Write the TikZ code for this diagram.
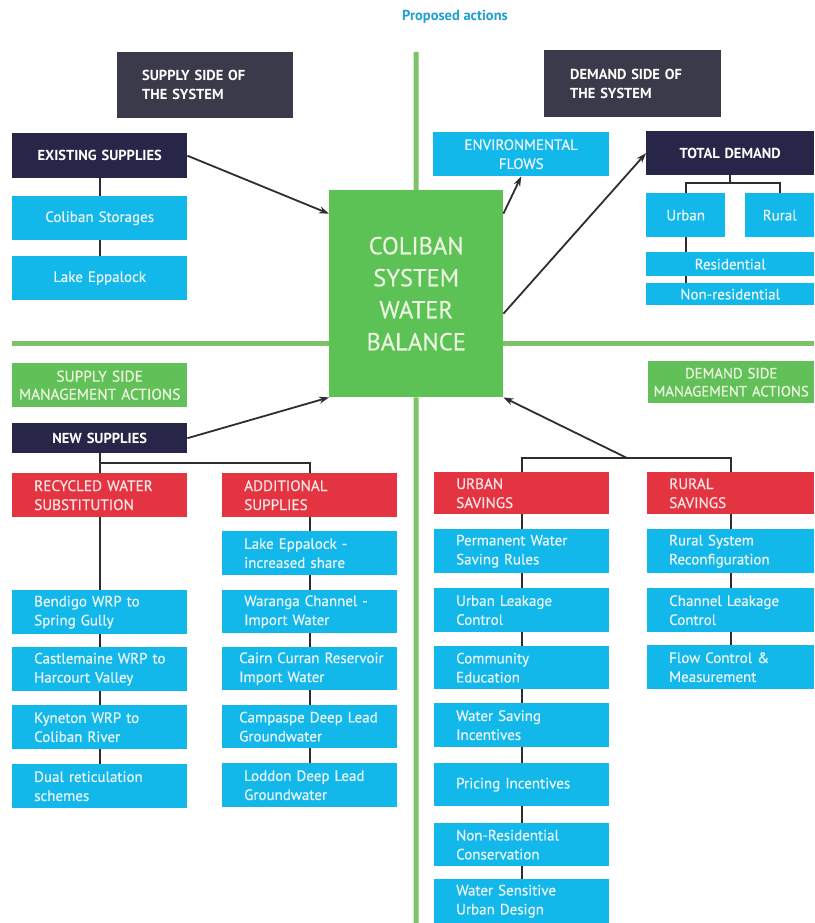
\documentclass[tikz,border=0pt]{standalone}
\usepackage{fontspec}
\setmainfont{PT Sans}
\newfontfamily\medfont[FakeBold=0.35]{PT Sans}
\usetikzlibrary{arrows.meta,backgrounds}
\definecolor{cyanbx}{RGB}{18,184,234}
\definecolor{navybx}{RGB}{40,38,72}
\definecolor{greybx}{RGB}{58,58,74}
\definecolor{greenbx}{RGB}{98,192,88}
\definecolor{centerbx}{RGB}{92,194,86}
\definecolor{greenln}{RGB}{125,194,100}
\definecolor{redbx}{RGB}{228,52,66}
\definecolor{txtw}{RGB}{236,245,250}
\definecolor{txtg}{RGB}{236,246,224}
\definecolor{txtr}{RGB}{250,230,230}
\definecolor{titlec}{RGB}{32,160,210}
\definecolor{conn}{RGB}{45,45,50}
\newcommand\ml[1]{\mbox{#1}}
\begin{document}
\begin{tikzpicture}[x=1pt,y=-1pt,
  Lb/.style={anchor=north west, inner ysep=0pt, inner xsep=22pt, align=left, text width=#1},
  Cb/.style={anchor=north west, inner ysep=0pt, inner xsep=3pt, align=center, text width=#1},
  ht/.style={minimum height=#1pt},
  cy/.style={fill=cyanbx, text=txtw, font=\medfont\fontsize{15}{19}\selectfont},
  nv/.style={fill=navybx, text=white, font=\bfseries\fontsize{14.5}{19}\selectfont},
  gy/.style={fill=greybx, text=white, font=\bfseries\fontsize{14.5}{19}\selectfont},
  gn/.style={fill=greenbx, text=txtg, font=\medfont\fontsize{15.4}{18}\selectfont},
  rd/.style={fill=redbx, text=txtr, font=\medfont\fontsize{15.2}{19}\selectfont},
  cbx/.style={fill=centerbx, text=txtg, font=\medfont\fontsize{24.5}{32}\selectfont},
  cn/.style={draw=conn, line width=2pt},
  arr/.style={draw=conn, line width=1.8pt, -{Stealth[length=10pt,width=7pt]}},
  gl/.style={draw=greenln, line width=5pt}
]
\useasboundingbox (0,0) rectangle (814,923);
\begin{pgfonlayer}{background}
\fill[white] (0,0) rectangle (814,923);
\end{pgfonlayer}

\node[font=\bfseries\fontsize{14.5}{16}\selectfont, text=titlec] (title) at (455,17) {Proposed actions};

% centre
\node[cbx, Cb=168pt, ht=207] (cb) at (329,190) {COLIBAN\\SYSTEM\\WATER\\BALANCE};

% supply side of the system
\node[gy, Lb=126pt, inner xsep=25pt, ht=66] (ssh) at (117,52) {SUPPLY SIDE OF\\THE SYSTEM};
\node[nv, Cb=169pt, ht=45] (es) at (12,133) {EXISTING SUPPLIES};
\node[cy, Cb=169pt, ht=44] (cs) at (12,196) {Coliban Storages};
\node[cy, Cb=169pt, ht=44] (le) at (12,256) {Lake Eppalock};

% demand side of the system
\node[gy, Lb=125pt, inner xsep=26pt, ht=67] (dsh) at (544,50) {DEMAND SIDE OF\\THE SYSTEM};
\node[cy, Cb=170pt, ht=44] (ef) at (433,132) {ENVIRONMENTAL\\FLOWS};
\node[nv, Cb=162pt, ht=44] (td) at (646,131) {TOTAL DEMAND};
\node[cy, Cb=73pt, ht=44] (ur) at (646,193) {Urban};
\node[cy, Cb=63pt, ht=44] (rr) at (745,193) {Rural};
\node[cy, Cb=162pt, ht=24] (res) at (646,252) {Residential};
\node[cy, Cb=162pt, ht=22] (nr) at (646,283) {Non-residential};

% supply side management
\node[gn, Cb=169pt, ht=44] (sm) at (12,363) {SUPPLY SIDE\\\ml{MANAGEMENT ACTIONS}};
\node[nv, Cb=169pt, ht=30] (ns) at (12,423) {NEW SUPPLIES};
\node[rd, Lb=131pt, ht=44] (rw) at (12,473) {RECYCLED WATER\\SUBSTITUTION};
\node[rd, Lb=131pt, ht=44] (as) at (222,473) {ADDITIONAL\\SUPPLIES};
\node[cy, Lb=131pt, ht=44] (bg) at (12,590) {Bendigo WRP to\\Spring Gully};
\node[cy, Lb=131pt, ht=44] (cm) at (12,647) {\ml{Castlemaine WRP to}\\Harcourt Valley};
\node[cy, Lb=131pt, ht=44] (ky) at (12,705) {Kyneton WRP to\\Coliban River};
\node[cy, Lb=131pt, ht=44] (du) at (12,764) {\ml{Dual reticulation}\\schemes};
\node[cy, Lb=131pt, ht=44] (li) at (222,531) {Lake Eppalock -\\increased share};
\node[cy, Lb=131pt, ht=43] (wc) at (222,590) {\ml{Waranga Channel -}\\Import Water};
\node[cy, Lb=141pt, inner xsep=17pt, ht=43] (cc) at (222,647) {\ml{Cairn Curran Reservoir}\\Import Water};
\node[cy, Lb=141pt, inner xsep=17pt, ht=43] (cp) at (222,705) {\ml{Campaspe Deep Lead}\\Groundwater};
\node[cy, Lb=131pt, ht=44] (ld) at (222,763) {\ml{Loddon Deep Lead}\\Groundwater};

% demand side management
\node[gn, Cb=160pt, ht=42, font=\medfont\fontsize{14.8}{18}\selectfont] (dm) at (648,361) {DEMAND SIDE\\\ml{MANAGEMENT ACTIONS}};
\node[rd, Lb=131pt, ht=42] (us) at (434,472) {URBAN\\SAVINGS};
\node[rd, Lb=123pt, ht=42] (rsv) at (647,472) {RURAL\\SAVINGS};
\node[cy, Lb=131pt, ht=44] (pw) at (434,529) {\ml{Permanent Water}\\Saving Rules};
\node[cy, Lb=131pt, ht=44] (ul) at (434,588) {Urban Leakage\\Control};
\node[cy, Lb=131pt, ht=43] (ce) at (434,646) {Community\\Education};
\node[cy, Lb=131pt, ht=44] (ws) at (434,703) {Water Saving\\Incentives};
\node[cy, Lb=131pt, ht=43] (pi) at (434,763) {\ml{Pricing Incentives}};
\node[cy, Lb=131pt, ht=43] (nc) at (434,823) {\ml{Non-Residential}\\Conservation};
\node[cy, Lb=131pt, ht=44] (wd) at (434,879) {\ml{Water Sensitive}\\Urban Design};
\node[cy, Lb=123pt, ht=44] (rc) at (647,529) {Rural System\\\ml{Reconfiguration}};
\node[cy, Lb=123pt, ht=44] (cl) at (647,588) {\ml{Channel Leakage}\\Control};
\node[cy, Lb=123pt, ht=44] (fc) at (647,645) {\ml{Flow Control \&}\\Measurement};

\coordinate (vt) at (416,52);
\coordinate (vb) at (416,923);
\coordinate (hl) at (12,343);
\coordinate (hr) at (814,343);
\coordinate (dj) at (627,458);

\begin{pgfonlayer}{background}
\draw[gl] (vt) -- (cb.north);
\draw[gl] (cb.south) -- (vb);
\draw[gl] (hl) -- (hl -| cb.west);
\draw[gl] (hr) -- (hr -| cb.east);
\draw[cn] (es.south) -- (le.north);
\draw[cn] (td.south) -- ++(0,8) -| (ur.north);
\draw[cn] (td.south) -- ++(0,8) -| (rr.north);
\draw[cn] (ur.south) -- (ur.south |- nr.north);
\draw[cn] (ns.south) -- (rw.north);
\draw[cn] (ns.south) -- ++(0,10) -| (as.north);
\draw[cn] (rw.south) -- (du.north);
\draw[cn] (as.south) -- (ld.north);
\draw[cn] (us.north) -- ++(0,-14) -| (rsv.north);
\draw[cn] (us.south) -- (wd.north);
\draw[cn] (rsv.south) -- (fc.north);
\end{pgfonlayer}

\draw[arr] (es.east) -- ([yshift=80pt]cb.west);
\draw[arr] (ns.east) -- (cb.south west);
\draw[arr] ([yshift=80pt]cb.east) -- (ef.south);
\draw[arr] ([yshift=-20pt]cb.east) -- (td.west);
\draw[arr] (dj) -- (cb.south east);
\end{tikzpicture}
\end{document}
